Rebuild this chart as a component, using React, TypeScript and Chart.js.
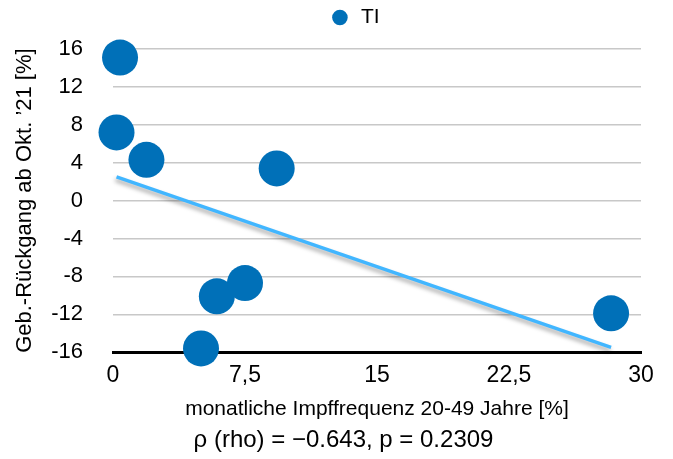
import React, { useEffect, useRef } from 'react';
import { Chart, registerables } from 'chart.js';

Chart.register(...registerables);

// ---- data ----
const seriesLabel = 'TI';
const tiX = [0.4, 0.2, 1.9, 9.3, 5.9, 7.5, 5.0, 28.3];
const tiY = [15.1, 7.2, 4.3, 3.4, -10.1, -8.7, -15.6, -11.9];
const trendX = [0.2, 28.3];
const trendY = [2.5, -15.5];
const xTicks = [0, 7.5, 15, 22.5, 30];
const yTicks = [-16, -12, -8, -4, 0, 4, 8, 12, 16];
const xTitle = 'monatliche Impffrequenz 20-49 Jahre [%]';
const yTitle = 'Geb.-Rückgang ab Okt. ’21 [%]';
const statsText = 'ρ (rho) = −0.643, p = 0.2309';

const FONT = "'Liberation Sans', Arial, sans-serif";
const POINT_COLOR = '#0070B8';
const TREND_COLOR = '#41B6FF';

const trendShadow = {
  id: 'trendShadow',
  beforeDatasetDraw(chart: any, args: any) {
    if (args.index === 1) {
      const c = chart.ctx;
      c.save();
      c.shadowColor = 'rgba(0,0,0,0.35)';
      c.shadowBlur = 4;
      c.shadowOffsetX = -1;
      c.shadowOffsetY = 3;
    }
  },
  afterDatasetDraw(chart: any, args: any) {
    if (args.index === 1) chart.ctx.restore();
  },
};

const boxShift = {
  id: 'boxShift',
  afterLayout(chart: any) {
    const lg = chart.legend;
    if (lg) {
      lg.left += 34;
      lg.right += 34;
      lg.top -= 11;
      lg.bottom -= 11;
    }
    const tb = chart.titleBlock;
    if (tb) {
      tb.left += 23;
      tb.right += 23;
      tb.top += 1;
      tb.bottom += 1;
    }
  },
};

export default function App() {
  const ref = useRef<HTMLCanvasElement>(null);

  useEffect(() => {
    if (!ref.current) return;
    const chart = new Chart(ref.current, {
      type: 'scatter',
      data: {
        datasets: [
          {
            label: seriesLabel,
            data: tiX.map((x, i) => ({ x, y: tiY[i] })),
            backgroundColor: POINT_COLOR,
            borderColor: POINT_COLOR,
            pointRadius: 18,
            pointBorderWidth: 0,
            pointStyle: 'circle',
            clip: false as any,
          },
          {
            label: 'Trend',
            data: trendX.map((x, i) => ({ x, y: trendY[i] })),
            showLine: true,
            borderColor: TREND_COLOR,
            backgroundColor: TREND_COLOR,
            borderWidth: 3.5,
            pointRadius: 0,
            clip: false as any,
          },
        ],
      },
      options: {
        responsive: false,
        animation: false,
        events: [],
        layout: { padding: { left: 0, right: 32, top: 0, bottom: 0 } },
        scales: {
          x: {
            type: 'linear',
            min: 0,
            max: 30,
            afterBuildTicks: (s: any) => {
              s.ticks = xTicks.map((v) => ({ value: v }));
            },
            grid: { display: false, drawTicks: false },
            border: { display: true, color: '#000', width: 3 },
            ticks: {
              font: { family: FONT, size: 23 },
              color: '#000',
              padding: 10,
              maxRotation: 0,
              autoSkip: false,
              callback: (v: any) => String(v).replace('.', ','),
            },
            title: {
              display: true,
              text: xTitle,
              font: { family: FONT, size: 21 },
              color: '#000',
              padding: { top: 0, bottom: 3 },
            },
            afterFit: (s: any) => {
              s.height = 73;
            },
          },
          y: {
            type: 'linear',
            min: -16,
            max: 16,
            afterBuildTicks: (s: any) => {
              s.ticks = yTicks.map((v) => ({ value: v }));
            },
            grid: {
              drawTicks: false,
              color: (ctx: any) =>
                ctx.tick && ctx.tick.value === yTicks[0] ? 'rgba(0,0,0,0)' : '#c8c8c8',
              lineWidth: 1.5,
            },
            border: { display: false },
            ticks: {
              font: { family: FONT, size: 22 },
              color: '#000',
              padding: 30,
              callback: (v: any) => String(v),
            },
            title: {
              display: true,
              text: yTitle,
              font: { family: FONT, size: 22 },
              color: '#000',
              padding: { top: 12, bottom: 0 },
            },
            afterFit: (s: any) => {
              s.width = 113;
              s.paddingTop = 49;
            },
          },
        },
        plugins: {
          legend: {
            display: true,
            position: 'top',
            labels: {
              usePointStyle: true,
              boxHeight: 11,
              padding: 7,
              color: '#000',
              font: { family: FONT, size: 21 },
              filter: (item: any) => item.datasetIndex === 0,
            },
          },
          title: {
            display: true,
            position: 'bottom',
            text: statsText,
            color: '#000',
            font: { family: FONT, size: 24, weight: 'normal' },
            padding: { top: 0, bottom: 5 },
          },
          tooltip: { enabled: false },
        },
      } as any,
      plugins: [trendShadow, boxShift],
    });
    return () => chart.destroy();
  }, []);

  return (
    <div style={{ position: 'absolute', left: 0, top: 0, width: 673, height: 459 }}>
      <canvas ref={ref} width={673} height={459} style={{ display: 'block', width: 673, height: 459 }} />
    </div>
  );
}
